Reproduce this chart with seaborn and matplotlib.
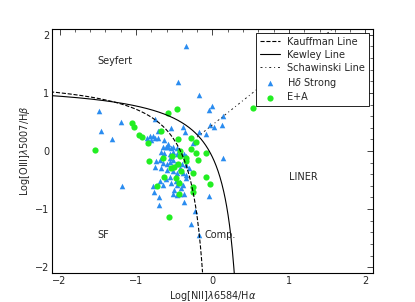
import numpy as np
import pandas as pd
import matplotlib
matplotlib.use("Agg")
import matplotlib.pyplot as plt
import seaborn as sns
from matplotlib.ticker import MultipleLocator

# H-delta strong galaxies (log NII/Ha, log OIII/Hb)
hd_x = [-0.34, -0.45, -0.17, -0.01, -0.05, -1.48, 0.14, -1.20, -0.75, -1.46,
        -1.31, -0.03, 0.02, 0.12, 0.14, -1.18, -0.78, -0.70, -0.70, -0.37,
        -0.04, -0.23, -0.28, -0.18, -0.52, -0.47, -0.42, -0.37, -0.54, -0.71,
        -0.63, -0.39, -0.36, -0.18, -0.08, -0.25,
        -0.86, -0.82, -0.78, -0.75, -0.71, -0.80, -0.84,
        -0.65, -0.61, -0.58, -0.54, -0.51, -0.47, -0.58,
        -0.67, -0.63, -0.56, -0.51, -0.46, -0.41, -0.37, -0.34,
        -0.74, -0.69, -0.65, -0.60, -0.55, -0.48, -0.40, -0.35, -0.43,
        -0.75, -0.67, -0.60, -0.51, -0.47, -0.39, -0.34,
        -0.61, -0.55, -0.48, -0.42, -0.39, -0.46, -0.54,
        -0.69, -0.65, -0.50, -0.41, -0.34, -0.31, -0.56, -0.52, -0.76]
hd_y = [1.81, 1.18, 0.97, 0.77, 0.71, 0.68, 0.60, 0.50, 0.55, 0.35,
        0.20, 0.45, 0.41, 0.45, -0.12, -0.60, -0.60, -0.80, -0.93, -0.88,
        -0.77, -1.03, -1.25, -1.44, -0.74, -0.76, -0.74, -0.74, 0.39, 0.35,
        0.19, 0.41, 0.32, 0.32, 0.29, 0.14,
        0.23, 0.26, 0.26, 0.23, 0.22, 0.19, 0.16,
        0.07, 0.07, 0.07, 0.06, 0.07, 0.06, 0.12,
        -0.01, -0.03, -0.05, -0.01, -0.06, -0.03, -0.05, -0.09,
        -0.17, -0.16, -0.20, -0.22, -0.19, -0.23, -0.22, -0.24, -0.29,
        -0.28, -0.29, -0.32, -0.35, -0.38, -0.38, -0.42,
        -0.48, -0.45, -0.51, -0.53, -0.59, -0.59, -0.55,
        -0.52, -0.58, -0.67, -0.64, -0.46, -0.29, -0.12, -0.15, -0.70]

# E+A galaxies
ea_x = [-0.58, -0.46, 0.53, -1.05, -1.02, -0.96, -0.92, -0.84, -1.53, -0.67,
        -0.45, -0.28, -0.22, -0.28, -0.21, -0.08, -0.19, -0.34, -0.35, -0.43,
        -0.53, -0.65, -0.83, -0.45, -0.50, -0.54, -0.41, -0.25, -0.64, -0.48,
        -0.44, -0.73, -0.25, -0.25, -0.03, -0.09, -0.44, -0.57, -0.43]
ea_y = [0.66, 0.72, 0.74, 0.48, 0.41, 0.28, 0.24, 0.13, 0.01, 0.34,
        0.20, 0.22, 0.16, 0.04, -0.03, -0.03, -0.15, -0.12, -0.17, -0.09,
        -0.08, -0.12, -0.17, -0.22, -0.27, -0.30, -0.35, -0.38, -0.45, -0.46,
        -0.55, -0.60, -0.62, -0.70, -0.57, -0.44, -0.74, -1.14, 0.00]

# Region labels
regions = ["Seyfert", "LINER", "SF", "Comp."]
region_x = [-1.5, 1.0, -1.5, -0.1]
region_y = [1.5, -0.5, -1.5, -1.5]

# Demarcation lines
x_kauff = np.linspace(-2.2, -0.13, 300)
y_kauff = 0.61 / (x_kauff - 0.05) + 1.3
x_kew = np.linspace(-2.2, 0.2846, 400)
y_kew = 0.61 / (x_kew - 0.47) + 1.19
x_sch = np.linspace(-0.2, 1.6, 50)
y_sch = 1.05 * x_sch + 0.45

sns.set_style("white")
plt.rcParams.update({
    "font.family": ["DejaVu Sans"],
    "font.size": 7,
    "mathtext.fontset": "dejavusans",
    "xtick.direction": "in",
    "ytick.direction": "in",
    "xtick.top": True,
    "ytick.right": True,
    "xtick.minor.visible": True,
    "ytick.minor.visible": True,
    "xtick.major.size": 4,
    "ytick.major.size": 4,
    "xtick.minor.size": 2,
    "ytick.minor.size": 2,
    "xtick.major.width": 0.6,
    "ytick.major.width": 0.6,
    "xtick.minor.width": 0.5,
    "ytick.minor.width": 0.5,
    "axes.linewidth": 0.8,
    "axes.edgecolor": "black",
})

fig, ax = plt.subplots(figsize=(4.15, 3.02), dpi=100)
fig.subplots_adjust(left=0.125, right=0.899, bottom=0.096, top=0.904)

kauff = pd.DataFrame({"x": x_kauff, "y": y_kauff})
kew = pd.DataFrame({"x": x_kew, "y": y_kew})
sch = pd.DataFrame({"x": x_sch, "y": y_sch})

sns.lineplot(data=kauff, x="x", y="y", ax=ax, color="black", lw=0.8,
             linestyle="--", sort=False, estimator=None, label="Kauffman Line")
sns.lineplot(data=kew, x="x", y="y", ax=ax, color="black", lw=0.8,
             sort=False, estimator=None, label="Kewley Line")
sns.lineplot(data=sch, x="x", y="y", ax=ax, color="#222222", lw=0.7,
             linestyle=(0, (2, 3, 1, 3)), sort=False, estimator=None,
             label="Schawinski Line")

sns.scatterplot(x=hd_x, y=hd_y, ax=ax, marker="^", color="#2a8cf0", s=16,
                linewidth=0, label=r"H$\delta$ Strong")
sns.scatterplot(x=ea_x, y=ea_y, ax=ax, marker="o", color="#22ee22", s=20,
                linewidth=0, label="E+A")

for name, tx, ty in zip(regions, region_x, region_y):
    ax.text(tx, ty, name, fontsize=7)

ax.set_xlim(-2.1, 2.1)
ax.set_ylim(-2.1, 2.1)
ax.xaxis.set_major_locator(MultipleLocator(1))
ax.yaxis.set_major_locator(MultipleLocator(1))
ax.xaxis.set_minor_locator(MultipleLocator(0.2))
ax.yaxis.set_minor_locator(MultipleLocator(0.2))
ax.set_xlabel(r"Log[NII]$\lambda$6584/H$\alpha$", fontsize=7, labelpad=2)
ax.set_ylabel(r"Log[OIII]$\lambda$5007/H$\beta$", fontsize=7, labelpad=2)
ax.tick_params(labelsize=7, pad=2)

leg = ax.legend(loc="upper right", fontsize=7, frameon=True, fancybox=False,
                edgecolor="black", framealpha=1, handlelength=2.0,
                borderaxespad=0.4, labelspacing=0.3)
leg.get_frame().set_linewidth(0.6)

fig.savefig("out.png", dpi=100)
